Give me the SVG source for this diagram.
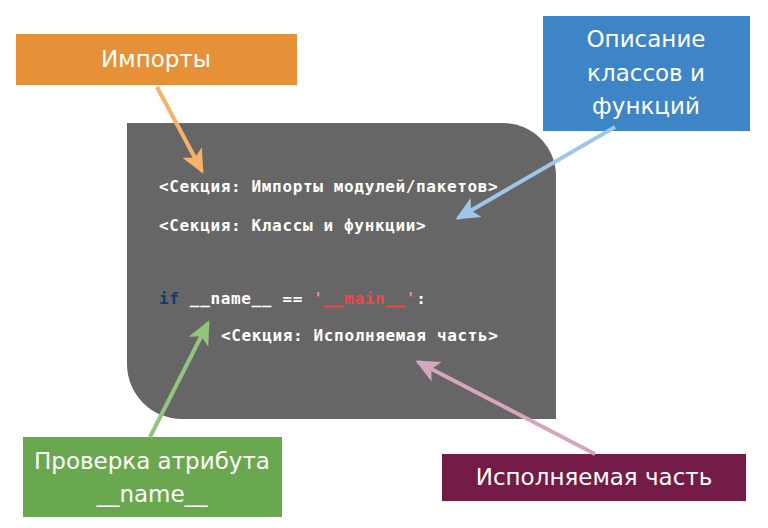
<svg xmlns="http://www.w3.org/2000/svg" width="768" height="528" viewBox="0 0 768 528">
<style>
.lbl{font-family:"DejaVu Sans","Noto Sans",sans-serif;font-size:23px;fill:#ffffff;text-anchor:middle}
.code{font-family:"DejaVu Sans Mono","Liberation Mono",monospace;font-weight:bold;font-size:16px;letter-spacing:0.65px;fill:#ffffff}
.conn line{stroke-width:4;fill:none}
</style>
<defs>
<marker id="mO" markerUnits="userSpaceOnUse" markerWidth="26" markerHeight="26" refX="21" refY="11" orient="auto" viewBox="0 0 26 22"><path d="M0,0 L24,11 L0,22 L6,11 Z" fill="#F6B26B"/></marker>
<marker id="mB" markerUnits="userSpaceOnUse" markerWidth="26" markerHeight="26" refX="21" refY="11" orient="auto" viewBox="0 0 26 22"><path d="M0,0 L24,11 L0,22 L6,11 Z" fill="#9FC5E8"/></marker>
<marker id="mG" markerUnits="userSpaceOnUse" markerWidth="26" markerHeight="26" refX="21" refY="11" orient="auto" viewBox="0 0 26 22"><path d="M0,0 L24,11 L0,22 L6,11 Z" fill="#93C47D"/></marker>
<marker id="mP" markerUnits="userSpaceOnUse" markerWidth="26" markerHeight="26" refX="21" refY="11" orient="auto" viewBox="0 0 26 22"><path d="M0,0 L24,11 L0,22 L6,11 Z" fill="#D5A6BD"/></marker>
</defs>
<rect width="768" height="528" fill="#ffffff"/>
<g id="code-block">
<path d="M127,123 H503 A53,53 0 0 1 556,176 V419 H182 A55,55 0 0 1 127,364 Z" fill="#666666"/>
<text class="code" x="159" y="192">&lt;Секция: Импорты модулей/пакетов&gt;</text>
<text class="code" x="159" y="231">&lt;Секция: Классы и функции&gt;</text>
<text class="code" x="159" y="304"><tspan fill="#0B3D6E">if</tspan> __name__ == <tspan fill="#F28B82">'</tspan><tspan fill="#F04848">__main__</tspan><tspan fill="#F28B82">'</tspan>:</text>
<text class="code" x="221" y="341">&lt;Секция: Исполняемая часть&gt;</text>
</g>
<g id="imports">
<rect x="16" y="34" width="281" height="51" fill="#E69138"/>
<text class="lbl" x="156" y="67">Импорты</text>
</g>
<g id="classes">
<rect x="543" y="16" width="207" height="115" fill="#3D85C6"/>
<text class="lbl" x="646" y="47">Описание</text>
<text class="lbl" x="646" y="81">классов и</text>
<text class="lbl" x="646" y="114">функций</text>
</g>
<g id="name-check">
<rect x="23" y="437" width="259" height="80" fill="#6AA84F"/>
<text class="lbl" x="152" y="469">Проверка атрибута</text>
<text class="lbl" x="152" y="502">__name__</text>
</g>
<g id="executable">
<rect x="442" y="454" width="304" height="47" fill="#741B47"/>
<text class="lbl" x="594" y="485">Исполняемая часть</text>
</g>
<g class="conn" id="connectors">
<line x1="157" y1="87" x2="202" y2="171" stroke="#F6B26B" marker-end="url(#mO)"/>
<line x1="615" y1="127" x2="458" y2="218" stroke="#9FC5E8" marker-end="url(#mB)"/>
<line x1="150" y1="437" x2="208" y2="323" stroke="#93C47D" marker-end="url(#mG)"/>
<line x1="595" y1="454" x2="418" y2="362" stroke="#D5A6BD" marker-end="url(#mP)"/>
</g>
</svg>
